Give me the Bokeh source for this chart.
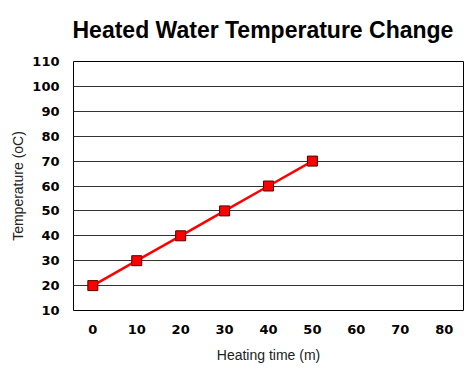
from bokeh.plotting import figure
from bokeh.embed import file_html
from bokeh.resources import INLINE
from bokeh.models import Range1d, FixedTicker

heating_time = [0, 10, 20, 30, 40, 50]
temperature = [20, 30, 40, 50, 60, 70]
x_ticks = [0, 10, 20, 30, 40, 50, 60, 70, 80]
y_ticks = [10, 20, 30, 40, 50, 60, 70, 80, 90, 100, 110]

FONT = "Liberation Sans"
TICK_FONT = "DejaVu Sans"

p = figure(width=474, height=369, output_backend="svg", toolbar_location=None,
           x_range=Range1d(-4.4, 84.4), y_range=Range1d(10, 110),
           min_border_left=73, min_border_right=11, min_border_top=61, min_border_bottom=59)

p.title.text = "Heated Water Temperature Change"
p.title.text_font = FONT
p.title.text_font_size = "23px"
p.title.text_font_style = "bold"
p.title.text_color = "black"
p.title.align = "left"
p.title.offset = -1
p.title.vertical_align = "top"
p.title.standoff = 33

p.outline_line_color = "black"
p.outline_line_width = 1
p.outline_line_alpha = 1

for ax in (p.xaxis[0], p.yaxis[0]):
    ax.axis_line_color = None
    ax.major_tick_line_color = None
    ax.minor_tick_line_color = None
    ax.major_tick_out = 0
    ax.major_tick_in = 0
    ax.minor_tick_out = 0
    ax.major_label_text_font = TICK_FONT
    ax.major_label_text_font_style = "bold"
    ax.major_label_text_font_size = "13px"
    ax.major_label_text_color = "black"
    ax.axis_label_text_font = FONT
    ax.axis_label_text_font_style = "normal"
    ax.axis_label_text_font_size = "14px"
    ax.axis_label_text_color = "#222222"

p.xaxis.ticker = FixedTicker(ticks=x_ticks)
p.yaxis.ticker = FixedTicker(ticks=y_ticks)
p.xaxis.axis_label = "Heating time (m)"
p.yaxis.axis_label = "Temperature (oC)"
p.xaxis.major_label_standoff = 14
p.yaxis.major_label_standoff = 14
p.xaxis.axis_label_standoff = 10
p.yaxis.axis_label_standoff = 3

p.xgrid.grid_line_color = None
p.ygrid.grid_line_color = "#333333"
p.ygrid.grid_line_width = 1

p.background_fill_color = "white"
p.border_fill_color = "white"

p.line(heating_time, temperature, line_color="#ff0000", line_width=2.5)
p.scatter(heating_time, temperature, marker="square", size=10,
          fill_color="#ff0000", line_color="#550000", line_width=1)

open("out.html", "w").write(file_html(p, INLINE))
